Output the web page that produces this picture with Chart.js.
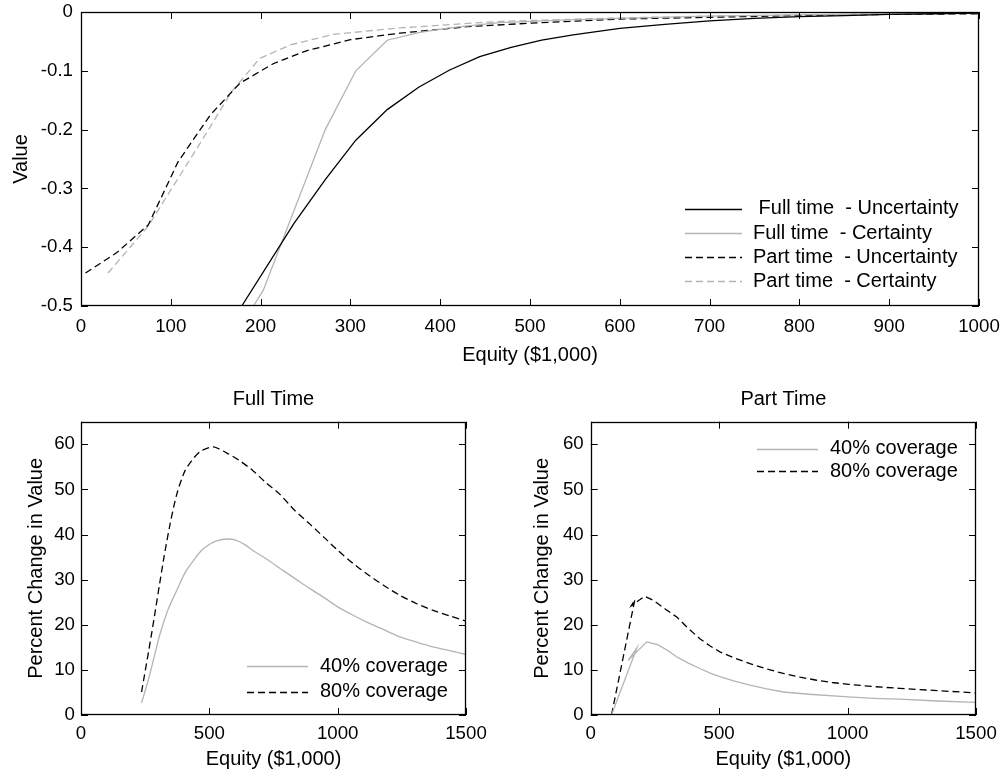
<!DOCTYPE html>
<html>
<head>
<meta charset="utf-8">
<script src="https://cdn.jsdelivr.net/npm/chart.js@4.4.1/dist/chart.umd.min.js"></script>
<style>
body { margin: 0; background: #fff; }
#wrap { position: relative; width: 1004px; height: 775px; }
canvas { position: absolute; }
</style>
</head>
<body>
<div id="wrap">
  <canvas id="topChart" width="1004" height="380" style="left:0;top:0;width:1004px;height:380px"></canvas>
  <canvas id="fullChart" width="500" height="395" style="left:0;top:380px;width:500px;height:395px"></canvas>
  <canvas id="partChart" width="504" height="395" style="left:500px;top:380px;width:504px;height:395px"></canvas>
</div>
<script>
// ---- top panel: value against equity ----
var ftUncEquity = [179, 237, 272, 306, 341, 376, 410, 444, 479, 513, 548, 600, 650, 700, 750, 800, 850, 900, 950, 1000];
var ftUncValue  = [-0.5, -0.36, -0.285, -0.218, -0.166, -0.128, -0.099, -0.076, -0.060, -0.048, -0.039, -0.028, -0.021, -0.015, -0.011, -0.008, -0.006, -0.004, -0.003, -0.002];

var ftCertEquity = [192, 203, 272, 306, 341, 376, 410, 466, 550, 600, 700, 800, 900, 1000];
var ftCertValue  = [-0.5, -0.473, -0.2, -0.1, -0.048, -0.035, -0.027, -0.018, -0.013, -0.011, -0.007, -0.005, -0.003, -0.002];

var ptUncEquity = [5, 40, 75, 108, 144, 177, 214, 251, 300, 355, 430, 500, 600, 700, 800, 900, 1000];
var ptUncValue  = [-0.444, -0.409, -0.362, -0.255, -0.175, -0.121, -0.088, -0.066, -0.047, -0.036, -0.025, -0.019, -0.012, -0.009, -0.006, -0.004, -0.003];

var ptCertEquity = [30, 75, 97, 134, 168, 199, 233, 281, 355, 466, 600, 700, 800, 900, 1000];
var ptCertValue  = [-0.444, -0.364, -0.31, -0.22, -0.135, -0.079, -0.056, -0.038, -0.027, -0.016, -0.010, -0.007, -0.005, -0.003, -0.002];

// ---- bottom left: full time, percent change ----
var full40Equity = [236, 262, 290, 308, 340, 373, 405, 438, 470, 503, 535, 567, 600, 640, 671, 730, 788, 840, 892, 950, 1002, 1060, 1113, 1180, 1243, 1310, 1372, 1440, 1500];
var full40Change = [2.7, 7.7, 14, 18, 23.5, 27.6, 31.5, 34.2, 36.5, 37.9, 38.7, 39.0, 38.8, 37.7, 36.4, 34.3, 32.0, 30.0, 28.0, 25.9, 23.9, 22.1, 20.6, 18.9, 17.3, 16.1, 15.1, 14.2, 13.4];

var full80Equity = [236, 275, 321, 347, 373, 405, 440, 470, 516, 567, 620, 671, 720, 775, 830, 892, 950, 1002, 1060, 1113, 1180, 1243, 1310, 1372, 1440, 1500];
var full80Change = [5.1, 18, 34.2, 42.3, 48.9, 54.1, 57, 58.6, 59.4, 58.1, 56.3, 54.1, 51.5, 48.9, 45.5, 42.3, 39.2, 36.4, 33.6, 31.3, 28.7, 26.5, 24.6, 23.2, 21.9, 20.8];

// ---- bottom right: part time, percent change ----
var part40Equity = [81, 180, 146, 218, 260, 300, 334, 380, 425, 465, 503, 560, 620, 685, 750, 850, 1003, 1100, 1203, 1350, 1500];
var part40Change = [0, 14.9, 12.1, 16.2, 15.6, 14.3, 12.9, 11.5, 10.3, 9.3, 8.5, 7.5, 6.6, 5.8, 5.1, 4.6, 4.0, 3.7, 3.5, 3.1, 2.8];

var part80Equity = [81, 172, 158, 210, 244, 290, 335, 380, 425, 465, 503, 560, 620, 685, 750, 815, 880, 940, 1003, 1100, 1203, 1350, 1500];
var part80Change = [0, 25.6, 24.2, 26.3, 25.4, 23.5, 21.7, 19.2, 16.9, 15.3, 14.0, 12.6, 11.4, 10.2, 9.2, 8.4, 7.7, 7.2, 6.8, 6.3, 5.9, 5.4, 4.9];

var GREY = '#b4b4b4';
var FONT = '"Liberation Sans", Arial, Helvetica, sans-serif';
var TICK_SIZE = 18.7;

Chart.defaults.font.family = FONT;
Chart.defaults.font.size = 20;
Chart.defaults.color = '#000';

function pts(xs, ys) {
  return xs.map(function (x, i) { return { x: x, y: ys[i] }; });
}

function line(label, xs, ys, color, dash, tension) {
  return {
    label: label,
    data: pts(xs, ys),
    showLine: true,
    pointRadius: 0,
    borderColor: color,
    borderWidth: 1.3,
    borderDash: dash || [],
    tension: tension || 0
  };
}

// boxed axes with inward ticks, a plain title and a legend, drawn the way the original plots look
var matlabFrame = {
  id: 'matlabFrame',
  afterDatasetsDraw: function (chart, args, opts) {
    var ctx = chart.ctx, a = chart.chartArea;
    var sx = chart.scales.x, sy = chart.scales.y, t = 7;
    ctx.save();
    ctx.strokeStyle = '#000';
    ctx.lineWidth = 1;
    ctx.setLineDash([]);
    ctx.beginPath();
    sx.ticks.forEach(function (tk) {
      var p = Math.round(sx.getPixelForValue(tk.value)) + 0.5;
      ctx.moveTo(p, a.bottom); ctx.lineTo(p, a.bottom - t);
      ctx.moveTo(p, a.top); ctx.lineTo(p, a.top + t);
    });
    sy.ticks.forEach(function (tk) {
      var p = Math.round(sy.getPixelForValue(tk.value)) + 0.5;
      ctx.moveTo(a.left, p); ctx.lineTo(a.left + t, p);
      ctx.moveTo(a.right, p); ctx.lineTo(a.right - t, p);
    });
    ctx.stroke();
    ctx.lineWidth = 1.3;
    ctx.strokeRect(Math.round(a.left) + 0.5, Math.round(a.top) + 0.5,
      Math.round(a.right) - Math.round(a.left) - 1, Math.round(a.bottom) - Math.round(a.top) - 1);

    ctx.fillStyle = '#000';
    ctx.font = '20px ' + FONT;
    if (opts.title) {
      ctx.textAlign = 'center';
      ctx.textBaseline = 'middle';
      ctx.fillText(opts.title, (a.left + a.right) / 2, opts.titleY);
    }
    if (opts.legend) {
      var L = opts.legend;
      chart.data.datasets.forEach(function (ds, i) {
        var y = L.rows[i];
        ctx.save();
        ctx.strokeStyle = ds.borderColor;
        ctx.lineWidth = ds.borderWidth;
        ctx.setLineDash(ds.borderDash);
        ctx.beginPath();
        ctx.moveTo(L.x1, Math.round(y) + 0.5);
        ctx.lineTo(L.x2, Math.round(y) + 0.5);
        ctx.stroke();
        ctx.restore();
        ctx.textAlign = 'left';
        ctx.textBaseline = 'middle';
        ctx.fillText(ds.label, L.textX, y);
      });
    }
    ctx.restore();
  }
};

function onlyMultiples(step) {
  return function (s) {
    s.ticks = s.ticks.filter(function (tk) {
      var r = tk.value / step;
      return Math.abs(r - Math.round(r)) < 1e-6;
    });
  };
}

// fixed axis sizes and no label overhang, so the plot box lands where the original has it
function fixSize(key, size) {
  return function (s) {
    s[key] = size;
    s.paddingTop = 0; s.paddingBottom = 0; s.paddingLeft = 0; s.paddingRight = 0;
  };
}

function makeChart(id, datasets, o) {
  return new Chart(document.getElementById(id), {
    type: 'scatter',
    data: { datasets: datasets },
    plugins: [matlabFrame],
    options: {
      responsive: false,
      animation: false,
      devicePixelRatio: 1,
      layout: { padding: o.padding },
      plugins: {
        legend: { display: false },
        tooltip: { enabled: false },
        matlabFrame: { title: o.title, titleY: o.titleY, legend: o.legend }
      },
      scales: {
        x: {
          type: 'linear', min: o.xMin, max: o.xMax,
          grid: { display: false, drawTicks: false },
          border: { display: false },
          afterBuildTicks: onlyMultiples(o.xStep),
          ticks: { stepSize: o.xStep, padding: o.xTickPad, maxRotation: 0, autoSkip: false,
                   font: { size: TICK_SIZE },
                   callback: function (v) { return String(v); } },
          title: { display: true, text: 'Equity ($1,000)', padding: { top: 0, bottom: o.xTitlePad } },
          afterFit: fixSize('height', o.xHeight)
        },
        y: {
          type: 'linear', min: o.yMin, max: o.yMax,
          grid: { display: false, drawTicks: false },
          border: { display: false },
          afterBuildTicks: onlyMultiples(o.yStep),
          ticks: { stepSize: o.yStep, padding: o.yTickPad, autoSkip: false,
                   font: { size: TICK_SIZE },
                   callback: function (v) { return String(Math.round(v * 10) / 10); } },
          title: { display: true, text: o.yTitle, padding: { top: o.yTitlePad, bottom: 0 } },
          afterFit: fixSize('width', o.yWidth)
        }
      }
    }
  });
}

makeChart('topChart', [
  line(' Full time  - Uncertainty', ftUncEquity, ftUncValue, '#000'),
  line('Full time  - Certainty', ftCertEquity, ftCertValue, GREY),
  line('Part time  - Uncertainty', ptUncEquity, ptUncValue, '#000', [7, 4]),
  line('Part time  - Certainty', ptCertEquity, ptCertValue, GREY, [7, 4])
], {
  padding: { top: 12, right: 25, left: 0, bottom: 0 },
  xMin: 0, xMax: 1000, xStep: 100, xTickPad: 9.6, xTitlePad: 13, xHeight: 74,
  yMin: -0.5, yMax: 0, yStep: 0.1, yTickPad: 8, yTitle: 'Value', yTitlePad: 9.3, yWidth: 81,
  legend: { x1: 685, x2: 742, textX: 753, rows: [208.5, 233, 257, 281] }
});

makeChart('fullChart', [
  line('40% coverage', full40Equity, full40Change, GREY, null, 0.25),
  line('80% coverage', full80Equity, full80Change, '#000', [7, 4], 0.25)
], {
  padding: { top: 41.7, right: 34, left: 0, bottom: 0 },
  xMin: 0, xMax: 1500, xStep: 500, xTickPad: 7.3, xTitlePad: 4, xHeight: 60,
  yMin: 0, yMax: 65, yStep: 10, yTickPad: 6, yTitle: 'Percent Change in Value', yTitlePad: 24, yWidth: 81,
  title: 'Full Time', titleY: 19,
  legend: { x1: 247, x2: 308, textX: 320, rows: [286, 311.5] }
});

makeChart('partChart', [
  line('40% coverage', part40Equity, part40Change, GREY),
  line('80% coverage', part80Equity, part80Change, '#000', [7, 4])
], {
  padding: { top: 41.7, right: 28, left: 0, bottom: 0 },
  xMin: 0, xMax: 1500, xStep: 500, xTickPad: 7.3, xTitlePad: 4, xHeight: 60,
  yMin: 0, yMax: 65, yStep: 10, yTickPad: 7, yTitle: 'Percent Change in Value', yTitlePad: 30.7, yWidth: 90.7,
  title: 'Part Time', titleY: 19,
  legend: { x1: 257, x2: 318, textX: 330, rows: [68.5, 91] }
});
</script>
</body>
</html>
